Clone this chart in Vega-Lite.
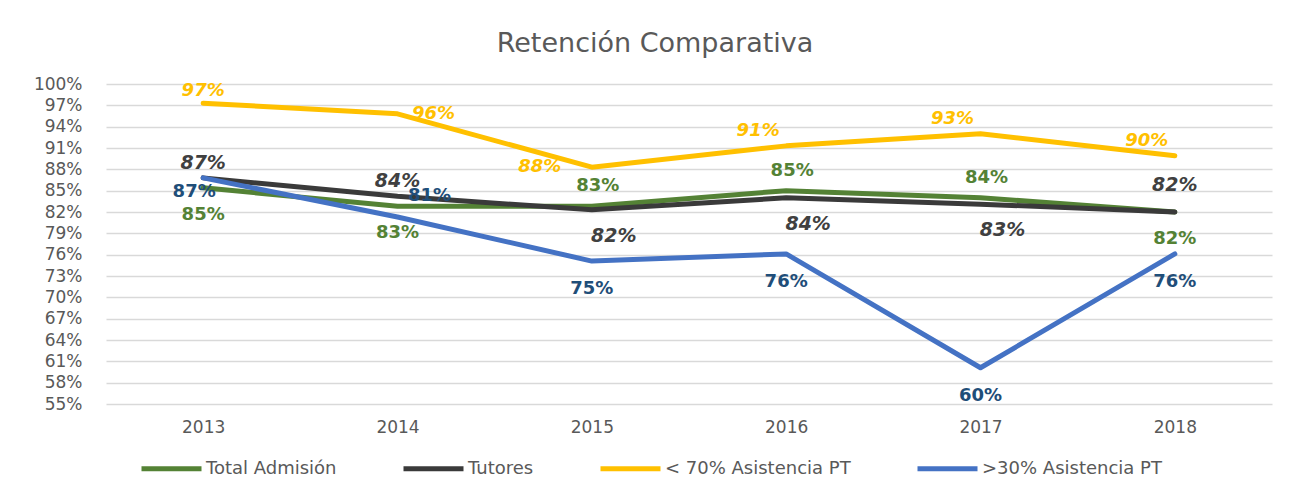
{
  "$schema": "https://vega.github.io/schema/vega-lite/v6.json",
  "autosize": "none",
  "width": 1166,
  "height": 320,
  "padding": {"left": 106, "top": 84, "right": 38, "bottom": 92},
  "background": "white",
  "title": {"text": "Retención Comparativa", "fontSize": 27, "font": "DejaVu Sans", "fontWeight": "normal", "color": "#595959", "anchor": "middle", "dx": -34, "offset": 17},
  "config": {
    "view": {"stroke": null},
    "axis": {"labelFont": "DejaVu Sans", "labelColor": "#595959", "labelFontSize": 17, "ticks": false, "domain": false, "title": null}
  },
  "data": {"values": [
    {"year": "2013", "series": "Total Admisión", "value": 0.854},
    {"year": "2014", "series": "Total Admisión", "value": 0.828},
    {"year": "2015", "series": "Total Admisión", "value": 0.828},
    {"year": "2016", "series": "Total Admisión", "value": 0.850},
    {"year": "2017", "series": "Total Admisión", "value": 0.840},
    {"year": "2018", "series": "Total Admisión", "value": 0.820},
    {"year": "2013", "series": "Tutores", "value": 0.868},
    {"year": "2014", "series": "Tutores", "value": 0.842},
    {"year": "2015", "series": "Tutores", "value": 0.823},
    {"year": "2016", "series": "Tutores", "value": 0.840},
    {"year": "2017", "series": "Tutores", "value": 0.831},
    {"year": "2018", "series": "Tutores", "value": 0.820},
    {"year": "2013", "series": "< 70% Asistencia PT", "value": 0.973},
    {"year": "2014", "series": "< 70% Asistencia PT", "value": 0.958},
    {"year": "2015", "series": "< 70% Asistencia PT", "value": 0.883},
    {"year": "2016", "series": "< 70% Asistencia PT", "value": 0.913},
    {"year": "2017", "series": "< 70% Asistencia PT", "value": 0.930},
    {"year": "2018", "series": "< 70% Asistencia PT", "value": 0.899},
    {"year": "2013", "series": ">30% Asistencia PT", "value": 0.868},
    {"year": "2014", "series": ">30% Asistencia PT", "value": 0.813},
    {"year": "2015", "series": ">30% Asistencia PT", "value": 0.751},
    {"year": "2016", "series": ">30% Asistencia PT", "value": 0.761},
    {"year": "2017", "series": ">30% Asistencia PT", "value": 0.601},
    {"year": "2018", "series": ">30% Asistencia PT", "value": 0.761}
  ]},
  "encoding": {
    "x": {"field": "year", "type": "ordinal", "axis": {"labelAngle": 0, "labelPadding": 15, "grid": false}},
    "y": {"field": "value", "type": "quantitative", "scale": {"domain": [0.55, 1.0], "nice": false, "zero": false},
      "axis": {"values": [0.55,0.58,0.61,0.64,0.67,0.70,0.73,0.76,0.79,0.82,0.85,0.88,0.91,0.94,0.97,1.0], "format": ".0%", "labelPadding": 24, "grid": true, "gridColor": "#D9D9D9", "gridWidth": 1.5}}
  },
  "layer": [
    {
      "mark": {"type": "line", "strokeWidth": 5, "strokeCap": "round", "strokeJoin": "round"},
      "encoding": {
        "color": {"field": "series", "type": "nominal",
          "scale": {"domain": ["Total Admisión", "Tutores", "< 70% Asistencia PT", ">30% Asistencia PT"], "range": ["#548235", "#3A3A3A", "#FFC000", "#4472C4"]},
          "legend": {"title": null, "orient": "none", "legendX": 33, "legendY": 352, "direction": "horizontal", "symbolType": "stroke", "symbolStrokeWidth": 5, "symbolSize": 3600, "labelFont": "DejaVu Sans", "labelFontSize": 18, "labelColor": "#595959", "labelOffset": 2, "labelLimit": 400, "columnPadding": 56}}
      }
    },
    {"transform": [{"filter": "datum.series == '< 70% Asistencia PT' && datum.year == '2013'"}],
     "mark": {"type": "text", "font": "DejaVu Sans", "fontSize": 18, "fontWeight": "bold", "fontStyle": "italic", "color": "#FFC000", "dy": -12},
     "encoding": {"text": {"field": "value", "format": ".0%"}}},
    {"transform": [{"filter": "datum.series == '< 70% Asistencia PT' && datum.year == '2014'"}],
     "mark": {"type": "text", "font": "DejaVu Sans", "fontSize": 18, "fontWeight": "bold", "fontStyle": "italic", "color": "#FFC000", "dx": 36, "dy": 0},
     "encoding": {"text": {"field": "value", "format": ".0%"}}},
    {"transform": [{"filter": "datum.series == '< 70% Asistencia PT' && datum.year == '2015'"}],
     "mark": {"type": "text", "font": "DejaVu Sans", "fontSize": 18, "fontWeight": "bold", "fontStyle": "italic", "color": "#FFC000", "dx": -52, "dy": 0},
     "encoding": {"text": {"field": "value", "format": ".0%"}}},
    {"transform": [{"filter": "datum.series == '< 70% Asistencia PT' && indexof(['2016','2017','2018'], datum.year) >= 0"}],
     "mark": {"type": "text", "font": "DejaVu Sans", "fontSize": 18, "fontWeight": "bold", "fontStyle": "italic", "color": "#FFC000", "dx": -28, "dy": -15},
     "encoding": {"text": {"field": "value", "format": ".0%"}}},
    {"transform": [{"filter": "datum.series == 'Tutores' && indexof(['2013','2014'], datum.year) >= 0"}],
     "mark": {"type": "text", "font": "DejaVu Sans", "fontSize": 19, "fontWeight": "bold", "fontStyle": "italic", "color": "#404040", "dy": -15},
     "encoding": {"text": {"field": "value", "format": ".0%"}}},
    {"transform": [{"filter": "datum.series == 'Tutores' && datum.year == '2018'"}],
     "mark": {"type": "text", "font": "DejaVu Sans", "fontSize": 19, "fontWeight": "bold", "fontStyle": "italic", "color": "#404040", "dy": -27},
     "encoding": {"text": {"field": "value", "format": ".0%"}}},
    {"transform": [{"filter": "datum.series == 'Tutores' && indexof(['2015','2016','2017'], datum.year) >= 0"}],
     "mark": {"type": "text", "font": "DejaVu Sans", "fontSize": 19, "fontWeight": "bold", "fontStyle": "italic", "color": "#404040", "dx": 22, "dy": 26},
     "encoding": {"text": {"field": "value", "format": ".0%"}}},
    {"transform": [{"filter": "datum.series == 'Total Admisión' && indexof(['2013','2014','2018'], datum.year) >= 0"}],
     "mark": {"type": "text", "font": "DejaVu Sans", "fontSize": 18, "fontWeight": "bold", "color": "#548235", "dy": 27},
     "encoding": {"text": {"field": "value", "format": ".0%"}}},
    {"transform": [{"filter": "datum.series == 'Total Admisión' && indexof(['2015','2016','2017'], datum.year) >= 0"}],
     "mark": {"type": "text", "font": "DejaVu Sans", "fontSize": 18, "fontWeight": "bold", "color": "#548235", "dx": 6, "dy": -20},
     "encoding": {"text": {"field": "value", "format": ".0%"}}},
    {"transform": [{"filter": "datum.series == '>30% Asistencia PT' && datum.year == '2013'"}],
     "mark": {"type": "text", "font": "DejaVu Sans", "fontSize": 18, "fontWeight": "bold", "color": "#1F4E79", "dx": -9, "dy": 14},
     "encoding": {"text": {"field": "value", "format": ".0%"}}},
    {"transform": [{"filter": "datum.series == '>30% Asistencia PT' && datum.year == '2014'"}],
     "mark": {"type": "text", "font": "DejaVu Sans", "fontSize": 18, "fontWeight": "bold", "color": "#1F4E79", "dx": 32, "dy": -21},
     "encoding": {"text": {"field": "value", "format": ".0%"}}},
    {"transform": [{"filter": "datum.series == '>30% Asistencia PT' && indexof(['2015','2016','2017','2018'], datum.year) >= 0"}],
     "mark": {"type": "text", "font": "DejaVu Sans", "fontSize": 18, "fontWeight": "bold", "color": "#1F4E79", "dy": 28},
     "encoding": {"text": {"field": "value", "format": ".0%"}}}
  ]
}
